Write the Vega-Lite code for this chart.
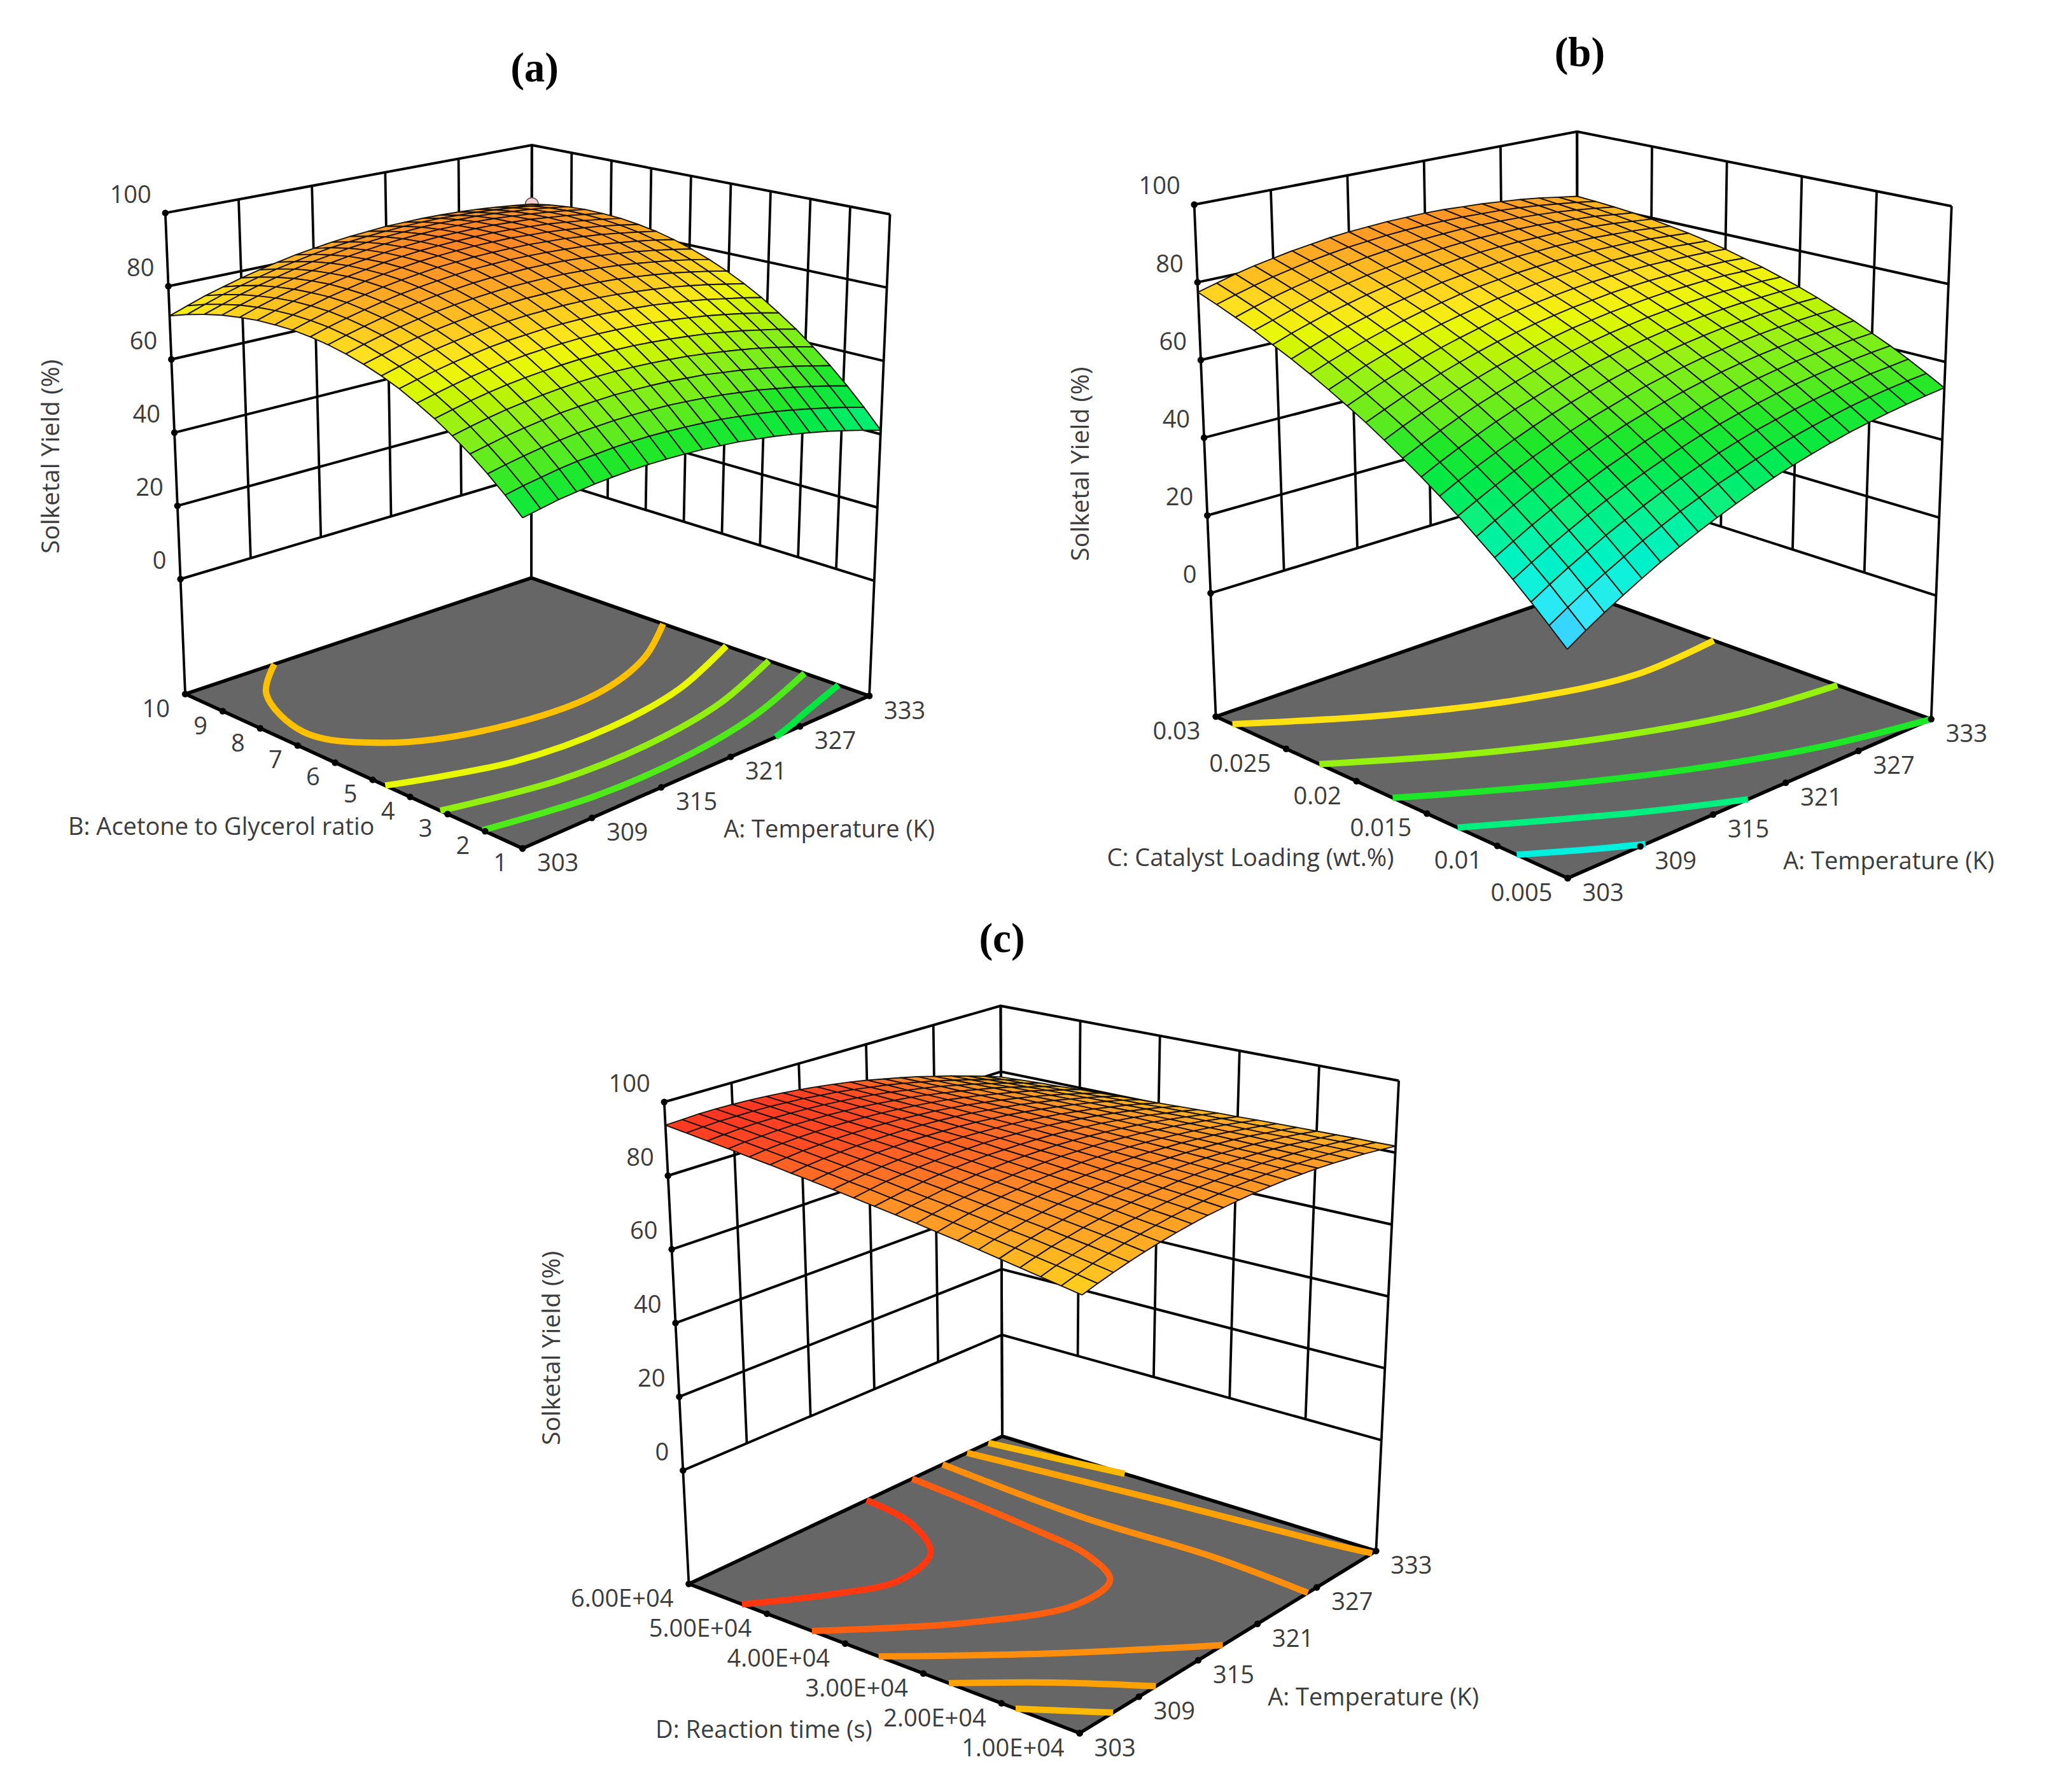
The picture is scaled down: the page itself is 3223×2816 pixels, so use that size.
{"$schema":"https://vega.github.io/schema/vega-lite/v6.json","width":3223,"height":2816,"padding":0,"autosize":{"type":"fit","contains":"padding"},"background":"white","config":{"view":{"stroke":null}},
"datasets":{
"ticks":[{"p":0,"axis":"A","t":0,"label":"303"},{"p":0,"axis":"A","t":0.2,"label":"309"},{"p":0,"axis":"A","t":0.4,"label":"315"},{"p":0,"axis":"A","t":0.6,"label":"321"},{"p":0,"axis":"A","t":0.8,"label":"327"},{"p":0,"axis":"A","t":1,"label":"333"},
{"p":1,"axis":"A","t":0,"label":"303"},{"p":1,"axis":"A","t":0.2,"label":"309"},{"p":1,"axis":"A","t":0.4,"label":"315"},{"p":1,"axis":"A","t":0.6,"label":"321"},{"p":1,"axis":"A","t":0.8,"label":"327"},{"p":1,"axis":"A","t":1,"label":"333"},
{"p":2,"axis":"A","t":0,"label":"303"},{"p":2,"axis":"A","t":0.2,"label":"309"},{"p":2,"axis":"A","t":0.4,"label":"315"},{"p":2,"axis":"A","t":0.6,"label":"321"},{"p":2,"axis":"A","t":0.8,"label":"327"},{"p":2,"axis":"A","t":1,"label":"333"},
{"p":0,"axis":"F","t":0,"label":"1"},{"p":0,"axis":"F","t":0.1111,"label":"2"},{"p":0,"axis":"F","t":0.2222,"label":"3"},{"p":0,"axis":"F","t":0.3333,"label":"4"},{"p":0,"axis":"F","t":0.4444,"label":"5"},{"p":0,"axis":"F","t":0.5556,"label":"6"},{"p":0,"axis":"F","t":0.6667,"label":"7"},{"p":0,"axis":"F","t":0.7778,"label":"8"},{"p":0,"axis":"F","t":0.8889,"label":"9"},{"p":0,"axis":"F","t":1,"label":"10"},
{"p":1,"axis":"F","t":0,"label":"0.005"},{"p":1,"axis":"F","t":0.2,"label":"0.01"},{"p":1,"axis":"F","t":0.4,"label":"0.015"},{"p":1,"axis":"F","t":0.6,"label":"0.02"},{"p":1,"axis":"F","t":0.8,"label":"0.025"},{"p":1,"axis":"F","t":1,"label":"0.03"},
{"p":2,"axis":"F","t":0,"label":"1.00E+04"},{"p":2,"axis":"F","t":0.2,"label":"2.00E+04"},{"p":2,"axis":"F","t":0.4,"label":"3.00E+04"},{"p":2,"axis":"F","t":0.6,"label":"4.00E+04"},{"p":2,"axis":"F","t":0.8,"label":"5.00E+04"},{"p":2,"axis":"F","t":1,"label":"6.00E+04"},
{"p":0,"axis":"Y","t":0,"label":"0"},{"p":0,"axis":"Y","t":20,"label":"20"},{"p":0,"axis":"Y","t":40,"label":"40"},{"p":0,"axis":"Y","t":60,"label":"60"},{"p":0,"axis":"Y","t":80,"label":"80"},{"p":0,"axis":"Y","t":100,"label":"100"},
{"p":1,"axis":"Y","t":0,"label":"0"},{"p":1,"axis":"Y","t":20,"label":"20"},{"p":1,"axis":"Y","t":40,"label":"40"},{"p":1,"axis":"Y","t":60,"label":"60"},{"p":1,"axis":"Y","t":80,"label":"80"},{"p":1,"axis":"Y","t":100,"label":"100"},
{"p":2,"axis":"Y","t":0,"label":"0"},{"p":2,"axis":"Y","t":20,"label":"20"},{"p":2,"axis":"Y","t":40,"label":"40"},{"p":2,"axis":"Y","t":60,"label":"60"},{"p":2,"axis":"Y","t":80,"label":"80"},{"p":2,"axis":"Y","t":100,"label":"100"}],
"floors":[{"p":0,"u":0,"v":0},{"p":0,"u":1,"v":0},{"p":0,"u":1,"v":1},{"p":0,"u":0,"v":1},{"p":0,"u":0,"v":0},{"p":1,"u":0,"v":0},{"p":1,"u":1,"v":0},{"p":1,"u":1,"v":1},{"p":1,"u":0,"v":1},{"p":1,"u":0,"v":0},{"p":2,"u":0,"v":0},{"p":2,"u":1,"v":0},{"p":2,"u":1,"v":1},{"p":2,"u":0,"v":1},{"p":2,"u":0,"v":0}],
"contours":[{"p":0,"c":"a1","L":80,"u":0.234,"v":1},{"p":0,"c":"a1","L":80,"u":0.12,"v":0.884},{"p":0,"c":"a1","L":80,"u":0.05,"v":0.678},{"p":0,"c":"a1","L":80,"u":0.131,"v":0.523},{"p":0,"c":"a1","L":80,"u":0.34,"v":0.422},{"p":0,"c":"a1","L":80,"u":0.608,"v":0.404},{"p":0,"c":"a1","L":80,"u":0.824,"v":0.472},{"p":0,"c":"a1","L":80,"u":1,"v":0.58},
{"p":0,"c":"a2","L":72.6,"u":0,"v":0.373},{"p":0,"c":"a2","L":72.6,"u":0.25,"v":0.28},{"p":0,"c":"a2","L":72.6,"u":0.5,"v":0.264},{"p":0,"c":"a2","L":72.6,"u":0.75,"v":0.302},{"p":0,"c":"a2","L":72.6,"u":1,"v":0.393},
{"p":0,"c":"a3","L":65.1,"u":0,"v":0.2185},{"p":0,"c":"a3","L":65.1,"u":0.25,"v":0.159},{"p":0,"c":"a3","L":65.1,"u":0.5,"v":0.154},{"p":0,"c":"a3","L":65.1,"u":0.75,"v":0.191},{"p":0,"c":"a3","L":65.1,"u":1,"v":0.272},
{"p":0,"c":"a4","L":57.7,"u":0,"v":0.104},{"p":0,"c":"a4","L":57.7,"u":0.25,"v":0.061},{"p":0,"c":"a4","L":57.7,"u":0.5,"v":0.062},{"p":0,"c":"a4","L":57.7,"u":0.75,"v":0.099},{"p":0,"c":"a4","L":57.7,"u":1,"v":0.173},
{"p":0,"c":"a5","L":50.2,"u":0.7,"v":0},{"p":0,"c":"a5","L":50.2,"u":0.75,"v":0.012},{"p":0,"c":"a5","L":50.2,"u":0.85,"v":0.041},{"p":0,"c":"a5","L":50.2,"u":1,"v":0.0815},
{"p":1,"c":"b1","L":76.5,"u":0,"v":0.947},{"p":1,"c":"b1","L":76.5,"u":0.25,"v":0.766},{"p":1,"c":"b1","L":76.5,"u":0.5,"v":0.637},{"p":1,"c":"b1","L":76.5,"u":0.75,"v":0.57},{"p":1,"c":"b1","L":76.5,"u":1,"v":0.588},
{"p":1,"c":"b2","L":65.4,"u":0,"v":0.679},{"p":1,"c":"b2","L":65.4,"u":0.25,"v":0.505},{"p":1,"c":"b2","L":65.4,"u":0.5,"v":0.374},{"p":1,"c":"b2","L":65.4,"u":0.75,"v":0.283},{"p":1,"c":"b2","L":65.4,"u":1,"v":0.244},
{"p":1,"c":"b3","L":54.2,"u":0,"v":0.466},{"p":1,"c":"b3","L":54.2,"u":0.25,"v":0.298},{"p":1,"c":"b3","L":54.2,"u":0.5,"v":0.162},{"p":1,"c":"b3","L":54.2,"u":0.75,"v":0.062},{"p":1,"c":"b3","L":54.2,"u":1,"v":0},
{"p":1,"c":"b4","L":43,"u":0,"v":0.2865},{"p":1,"c":"b4","L":43,"u":0.25,"v":0.121},{"p":1,"c":"b4","L":43,"u":0.35,"v":0.062},{"p":1,"c":"b4","L":43,"u":0.465,"v":0},
{"p":1,"c":"b5","L":32,"u":0,"v":0.13},{"p":1,"c":"b5","L":32,"u":0.1,"v":0.06},{"p":1,"c":"b5","L":32,"u":0.194,"v":0},
{"p":2,"c":"c1","L":92,"u":0.537,"v":1},{"p":2,"c":"c1","L":92,"u":0.503,"v":0.839},{"p":2,"c":"c1","L":92,"u":0.416,"v":0.713},{"p":2,"c":"c1","L":92,"u":0.28,"v":0.678},{"p":2,"c":"c1","L":92,"u":0.137,"v":0.747},{"p":2,"c":"c1","L":92,"u":0,"v":0.85},
{"p":2,"c":"c2","L":89.4,"u":0.687,"v":1},{"p":2,"c":"c2","L":89.4,"u":0.646,"v":0.64},{"p":2,"c":"c2","L":89.4,"u":0.61,"v":0.45},{"p":2,"c":"c2","L":89.4,"u":0.545,"v":0.345},{"p":2,"c":"c2","L":89.4,"u":0.414,"v":0.329},{"p":2,"c":"c2","L":89.4,"u":0.216,"v":0.447},{"p":2,"c":"c2","L":89.4,"u":0,"v":0.66},
{"p":2,"c":"c3","L":86.5,"u":0.79,"v":1},{"p":2,"c":"c3","L":86.5,"u":0.756,"v":0.562},{"p":2,"c":"c3","L":86.5,"u":0.766,"v":0.254},{"p":2,"c":"c3","L":86.5,"u":0.745,"v":0},
{"p":2,"c":"c3b","L":86.5,"u":0,"v":0.486},{"p":2,"c":"c3b","L":86.5,"u":0.209,"v":0.243},{"p":2,"c":"c3b","L":86.5,"u":0.449,"v":0},
{"p":2,"c":"c4","L":83.7,"u":0.875,"v":1},{"p":2,"c":"c4","L":83.7,"u":0.933,"v":0.483},{"p":2,"c":"c4","L":83.7,"u":0.97,"v":0.1},{"p":2,"c":"c4","L":83.7,"u":0.985,"v":0},
{"p":2,"c":"c4b","L":83.7,"u":0,"v":0.31},{"p":2,"c":"c4b","L":83.7,"u":0.123,"v":0.16},{"p":2,"c":"c4b","L":83.7,"u":0.232,"v":0},
{"p":2,"c":"c5","L":80.8,"u":0.95,"v":1},{"p":2,"c":"c5","L":80.8,"u":0.975,"v":0.82},{"p":2,"c":"c5","L":80.8,"u":1,"v":0.65},
{"p":2,"c":"c5b","L":80.8,"u":0,"v":0.149},{"p":2,"c":"c5b","L":80.8,"u":0.05,"v":0.074},{"p":2,"c":"c5b","L":80.8,"u":0.1,"v":0}],
"axisTitles":[{"p":0,"label":"A: Temperature (K)","u":0.447,"v":-0.341},{"p":0,"label":"B: Acetone to Glycerol ratio","u":-0.332,"v":0.445},{"p":1,"label":"A: Temperature (K)","u":0.4478,"v":-0.3523},{"p":1,"label":"C: Catalyst Loading (wt.%)","u":-0.3483,"v":0.4468},{"p":2,"label":"A: Temperature (K)","u":0.4442,"v":-0.342},{"p":2,"label":"D: Reaction time (s)","u":-0.3511,"v":0.4507}],
"yieldTitles":[{"p":0,"label":"Solketal Yield (%)"},{"p":1,"label":"Solketal Yield (%)"},{"p":2,"label":"Solketal Yield (%)"}],
"panelTitles":[{"p":0,"label":"(a)","z":124},{"p":1,"label":"(b)","z":120.4},{"p":2,"label":"(c)","z":119}],
"designPoints":[{"p":0,"u":1,"v":1,"z":84}],
"surface":[{"z":82.7},{"z":83.4},{"z":84},{"z":84.5},{"z":84.8},{"z":85},{"z":85.1},{"z":85},{"z":84.9},{"z":84.5},{"z":84.1},{"z":83.5},{"z":82.8},{"z":82},{"z":81},{"z":79.9},{"z":78.7},{"z":77.3},{"z":75.9},{"z":74.2},{"z":72.5},
{"z":83.6},{"z":84.4},{"z":85},{"z":85.5},{"z":85.9},{"z":86.1},{"z":86.3},{"z":86.3},{"z":86.1},{"z":85.8},{"z":85.4},{"z":84.9},{"z":84.3},{"z":83.5},{"z":82.5},{"z":81.5},{"z":80.3},{"z":79},{"z":77.6},{"z":76},{"z":74.3},
{"z":84.2},{"z":85},{"z":85.7},{"z":86.2},{"z":86.7},{"z":87},{"z":87.1},{"z":87.2},{"z":87.1},{"z":86.8},{"z":86.5},{"z":86},{"z":85.4},{"z":84.6},{"z":83.8},{"z":82.8},{"z":81.6},{"z":80.4},{"z":79},{"z":77.4},{"z":75.8},
{"z":84.5},{"z":85.3},{"z":86},{"z":86.6},{"z":87.1},{"z":87.5},{"z":87.7},{"z":87.7},{"z":87.7},{"z":87.5},{"z":87.2},{"z":86.8},{"z":86.2},{"z":85.5},{"z":84.7},{"z":83.7},{"z":82.6},{"z":81.4},{"z":80},{"z":78.6},{"z":77},
{"z":84.4},{"z":85.3},{"z":86.1},{"z":86.7},{"z":87.3},{"z":87.6},{"z":87.9},{"z":88},{"z":88},{"z":87.9},{"z":87.6},{"z":87.2},{"z":86.7},{"z":86},{"z":85.3},{"z":84.3},{"z":83.3},{"z":82.1},{"z":80.8},{"z":79.4},{"z":77.8},
{"z":84.1},{"z":85},{"z":85.8},{"z":86.5},{"z":87.1},{"z":87.5},{"z":87.8},{"z":88},{"z":88},{"z":87.9},{"z":87.7},{"z":87.4},{"z":86.9},{"z":86.3},{"z":85.5},{"z":84.7},{"z":83.7},{"z":82.5},{"z":81.3},{"z":79.9},{"z":78.4},
{"z":83.4},{"z":84.4},{"z":85.3},{"z":86},{"z":86.6},{"z":87.1},{"z":87.4},{"z":87.7},{"z":87.7},{"z":87.7},{"z":87.5},{"z":87.2},{"z":86.8},{"z":86.2},{"z":85.5},{"z":84.7},{"z":83.7},{"z":82.7},{"z":81.4},{"z":80.1},{"z":78.6},
{"z":82.5},{"z":83.5},{"z":84.4},{"z":85.2},{"z":85.8},{"z":86.4},{"z":86.7},{"z":87},{"z":87.1},{"z":87.1},{"z":87},{"z":86.7},{"z":86.4},{"z":85.8},{"z":85.2},{"z":84.4},{"z":83.5},{"z":82.5},{"z":81.3},{"z":80},{"z":78.6},
{"z":81.2},{"z":82.3},{"z":83.2},{"z":84},{"z":84.7},{"z":85.3},{"z":85.7},{"z":86},{"z":86.2},{"z":86.3},{"z":86.2},{"z":86},{"z":85.6},{"z":85.1},{"z":84.5},{"z":83.8},{"z":82.9},{"z":81.9},{"z":80.8},{"z":79.6},{"z":78.2},
{"z":79.6},{"z":80.7},{"z":81.7},{"z":82.6},{"z":83.3},{"z":83.9},{"z":84.4},{"z":84.8},{"z":85},{"z":85.1},{"z":85},{"z":84.9},{"z":84.6},{"z":84.1},{"z":83.6},{"z":82.9},{"z":82.1},{"z":81.1},{"z":80},{"z":78.8},{"z":77.5},
{"z":77.7},{"z":78.9},{"z":79.9},{"z":80.8},{"z":81.6},{"z":82.3},{"z":82.8},{"z":83.2},{"z":83.5},{"z":83.6},{"z":83.6},{"z":83.5},{"z":83.2},{"z":82.8},{"z":82.3},{"z":81.7},{"z":80.9},{"z":80},{"z":79},{"z":77.8},{"z":76.5},
{"z":75.5},{"z":76.7},{"z":77.8},{"z":78.8},{"z":79.6},{"z":80.3},{"z":80.9},{"z":81.3},{"z":81.6},{"z":81.8},{"z":81.8},{"z":81.8},{"z":81.6},{"z":81.2},{"z":80.7},{"z":80.1},{"z":79.4},{"z":78.6},{"z":77.6},{"z":76.4},{"z":75.2},
{"z":73},{"z":74.2},{"z":75.4},{"z":76.4},{"z":77.3},{"z":78},{"z":78.6},{"z":79.1},{"z":79.5},{"z":79.7},{"z":79.8},{"z":79.7},{"z":79.6},{"z":79.3},{"z":78.9},{"z":78.3},{"z":77.6},{"z":76.8},{"z":75.9},{"z":74.8},{"z":73.6},
{"z":70.2},{"z":71.5},{"z":72.6},{"z":73.7},{"z":74.6},{"z":75.4},{"z":76.1},{"z":76.6},{"z":77},{"z":77.3},{"z":77.4},{"z":77.4},{"z":77.3},{"z":77},{"z":76.7},{"z":76.2},{"z":75.5},{"z":74.7},{"z":73.8},{"z":72.8},{"z":71.7},
{"z":67},{"z":68.4},{"z":69.6},{"z":70.7},{"z":71.7},{"z":72.5},{"z":73.2},{"z":73.8},{"z":74.2},{"z":74.5},{"z":74.7},{"z":74.8},{"z":74.7},{"z":74.5},{"z":74.2},{"z":73.7},{"z":73.1},{"z":72.4},{"z":71.5},{"z":70.5},{"z":69.4},
{"z":63.6},{"z":65},{"z":66.2},{"z":67.4},{"z":68.4},{"z":69.3},{"z":70},{"z":70.6},{"z":71.1},{"z":71.5},{"z":71.7},{"z":71.8},{"z":71.8},{"z":71.6},{"z":71.3},{"z":70.9},{"z":70.4},{"z":69.7},{"z":68.9},{"z":67.9},{"z":66.9},
{"z":59.8},{"z":61.3},{"z":62.6},{"z":63.8},{"z":64.8},{"z":65.7},{"z":66.5},{"z":67.2},{"z":67.7},{"z":68.1},{"z":68.4},{"z":68.6},{"z":68.6},{"z":68.5},{"z":68.2},{"z":67.8},{"z":67.3},{"z":66.7},{"z":65.9},{"z":65},{"z":64},
{"z":55.8},{"z":57.2},{"z":58.6},{"z":59.8},{"z":60.9},{"z":61.9},{"z":62.7},{"z":63.5},{"z":64},{"z":64.5},{"z":64.8},{"z":65},{"z":65.1},{"z":65},{"z":64.8},{"z":64.5},{"z":64},{"z":63.4},{"z":62.7},{"z":61.8},{"z":60.9},
{"z":51.4},{"z":52.9},{"z":54.3},{"z":55.6},{"z":56.7},{"z":57.8},{"z":58.6},{"z":59.4},{"z":60},{"z":60.5},{"z":60.9},{"z":61.1},{"z":61.2},{"z":61.2},{"z":61},{"z":60.8},{"z":60.3},{"z":59.8},{"z":59.1},{"z":58.3},{"z":57.4},
{"z":46.7},{"z":48.3},{"z":49.7},{"z":51},{"z":52.2},{"z":53.3},{"z":54.2},{"z":55},{"z":55.7},{"z":56.2},{"z":56.6},{"z":56.9},{"z":57.1},{"z":57.1},{"z":57},{"z":56.7},{"z":56.4},{"z":55.9},{"z":55.2},{"z":54.5},{"z":53.6},
{"z":41.7},{"z":43.3},{"z":44.8},{"z":46.2},{"z":47.4},{"z":48.5},{"z":49.5},{"z":50.3},{"z":51.1},{"z":51.6},{"z":52.1},{"z":52.4},{"z":52.6},{"z":52.7},{"z":52.6},{"z":52.4},{"z":52.1},{"z":51.6},{"z":51.1},{"z":50.3},{"z":49.5},
{"z":82.3},{"z":83.2},{"z":84.1},{"z":84.8},{"z":85.3},{"z":85.8},{"z":86.1},{"z":86.4},{"z":86.5},{"z":86.4},{"z":86.3},{"z":86},{"z":85.7},{"z":85.2},{"z":84.5},{"z":83.8},{"z":82.9},{"z":82},{"z":80.9},{"z":79.6},{"z":78.3},
{"z":82},{"z":82.9},{"z":83.6},{"z":84.3},{"z":84.8},{"z":85.2},{"z":85.4},{"z":85.6},{"z":85.6},{"z":85.5},{"z":85.3},{"z":85},{"z":84.5},{"z":84},{"z":83.3},{"z":82.5},{"z":81.5},{"z":80.5},{"z":79.3},{"z":78},{"z":76.6},
{"z":81.6},{"z":82.4},{"z":83.1},{"z":83.7},{"z":84.1},{"z":84.4},{"z":84.6},{"z":84.7},{"z":84.7},{"z":84.5},{"z":84.2},{"z":83.8},{"z":83.3},{"z":82.7},{"z":81.9},{"z":81},{"z":80},{"z":78.9},{"z":77.7},{"z":76.3},{"z":74.8},
{"z":81.1},{"z":81.8},{"z":82.5},{"z":82.9},{"z":83.3},{"z":83.6},{"z":83.7},{"z":83.7},{"z":83.6},{"z":83.4},{"z":83},{"z":82.5},{"z":81.9},{"z":81.2},{"z":80.4},{"z":79.4},{"z":78.4},{"z":77.2},{"z":75.9},{"z":74.4},{"z":72.9},
{"z":80.5},{"z":81.1},{"z":81.7},{"z":82.1},{"z":82.4},{"z":82.6},{"z":82.6},{"z":82.6},{"z":82.4},{"z":82.1},{"z":81.7},{"z":81.1},{"z":80.5},{"z":79.7},{"z":78.8},{"z":77.8},{"z":76.6},{"z":75.4},{"z":74},{"z":72.5},{"z":70.8},
{"z":79.7},{"z":80.3},{"z":80.8},{"z":81.1},{"z":81.4},{"z":81.5},{"z":81.5},{"z":81.3},{"z":81.1},{"z":80.7},{"z":80.2},{"z":79.6},{"z":78.9},{"z":78},{"z":77},{"z":76},{"z":74.7},{"z":73.4},{"z":72},{"z":70.4},{"z":68.7},
{"z":78.9},{"z":79.4},{"z":79.8},{"z":80.1},{"z":80.2},{"z":80.3},{"z":80.2},{"z":80},{"z":79.6},{"z":79.2},{"z":78.6},{"z":78},{"z":77.2},{"z":76.2},{"z":75.2},{"z":74},{"z":72.7},{"z":71.3},{"z":69.8},{"z":68.2},{"z":66.4},
{"z":77.9},{"z":78.3},{"z":78.7},{"z":78.9},{"z":78.9},{"z":78.9},{"z":78.8},{"z":78.5},{"z":78.1},{"z":77.6},{"z":76.9},{"z":76.2},{"z":75.3},{"z":74.3},{"z":73.2},{"z":72},{"z":70.6},{"z":69.2},{"z":67.6},{"z":65.8},{"z":64},
{"z":76.8},{"z":77.2},{"z":77.4},{"z":77.5},{"z":77.6},{"z":77.5},{"z":77.2},{"z":76.9},{"z":76.4},{"z":75.8},{"z":75.1},{"z":74.3},{"z":73.4},{"z":72.3},{"z":71.1},{"z":69.8},{"z":68.4},{"z":66.8},{"z":65.2},{"z":63.4},{"z":61.5},
{"z":75.5},{"z":75.9},{"z":76},{"z":76.1},{"z":76},{"z":75.9},{"z":75.6},{"z":75.2},{"z":74.6},{"z":74},{"z":73.2},{"z":72.3},{"z":71.3},{"z":70.2},{"z":68.9},{"z":67.5},{"z":66},{"z":64.4},{"z":62.7},{"z":60.8},{"z":58.9},
{"z":74.2},{"z":74.4},{"z":74.6},{"z":74.6},{"z":74.4},{"z":74.2},{"z":73.8},{"z":73.3},{"z":72.7},{"z":72},{"z":71.2},{"z":70.2},{"z":69.1},{"z":67.9},{"z":66.6},{"z":65.1},{"z":63.6},{"z":61.9},{"z":60.1},{"z":58.2},{"z":56.1},
{"z":72.7},{"z":72.9},{"z":72.9},{"z":72.9},{"z":72.7},{"z":72.4},{"z":71.9},{"z":71.4},{"z":70.7},{"z":69.9},{"z":69},{"z":68},{"z":66.8},{"z":65.5},{"z":64.1},{"z":62.6},{"z":61},{"z":59.2},{"z":57.3},{"z":55.3},{"z":53.2},
{"z":71.2},{"z":71.3},{"z":71.2},{"z":71.1},{"z":70.8},{"z":70.4},{"z":69.9},{"z":69.3},{"z":68.5},{"z":67.7},{"z":66.7},{"z":65.6},{"z":64.4},{"z":63},{"z":61.5},{"z":60},{"z":58.3},{"z":56.4},{"z":54.5},{"z":52.4},{"z":50.2},
{"z":69.5},{"z":69.5},{"z":69.4},{"z":69.2},{"z":68.8},{"z":68.4},{"z":67.8},{"z":67.1},{"z":66.3},{"z":65.3},{"z":64.3},{"z":63.1},{"z":61.8},{"z":60.4},{"z":58.9},{"z":57.2},{"z":55.4},{"z":53.5},{"z":51.5},{"z":49.4},{"z":47.1},
{"z":67.6},{"z":67.6},{"z":67.4},{"z":67.1},{"z":66.7},{"z":66.2},{"z":65.5},{"z":64.8},{"z":63.9},{"z":62.9},{"z":61.8},{"z":60.5},{"z":59.1},{"z":57.7},{"z":56.1},{"z":54.3},{"z":52.5},{"z":50.5},{"z":48.4},{"z":46.2},{"z":43.9},
{"z":65.7},{"z":65.6},{"z":65.3},{"z":65},{"z":64.5},{"z":63.9},{"z":63.2},{"z":62.4},{"z":61.4},{"z":60.3},{"z":59.1},{"z":57.8},{"z":56.4},{"z":54.8},{"z":53.1},{"z":51.3},{"z":49.4},{"z":47.4},{"z":45.2},{"z":42.9},{"z":40.5},
{"z":63.6},{"z":63.4},{"z":63.1},{"z":62.7},{"z":62.2},{"z":61.5},{"z":60.7},{"z":59.8},{"z":58.8},{"z":57.6},{"z":56.3},{"z":55},{"z":53.5},{"z":51.8},{"z":50.1},{"z":48.2},{"z":46.2},{"z":44.1},{"z":41.9},{"z":39.5},{"z":37.1},
{"z":61.5},{"z":61.2},{"z":60.8},{"z":60.3},{"z":59.7},{"z":59},{"z":58.1},{"z":57.1},{"z":56},{"z":54.8},{"z":53.5},{"z":52},{"z":50.4},{"z":48.7},{"z":46.9},{"z":45},{"z":42.9},{"z":40.7},{"z":38.4},{"z":36},{"z":33.5},
{"z":59.2},{"z":58.8},{"z":58.4},{"z":57.8},{"z":57.1},{"z":56.3},{"z":55.4},{"z":54.3},{"z":53.2},{"z":51.9},{"z":50.5},{"z":48.9},{"z":47.3},{"z":45.5},{"z":43.6},{"z":41.6},{"z":39.5},{"z":37.2},{"z":34.9},{"z":32.4},{"z":29.8},
{"z":56.7},{"z":56.3},{"z":55.8},{"z":55.2},{"z":54.4},{"z":53.5},{"z":52.5},{"z":51.4},{"z":50.2},{"z":48.8},{"z":47.3},{"z":45.8},{"z":44},{"z":42.2},{"z":40.2},{"z":38.2},{"z":35.9},{"z":33.6},{"z":31.2},{"z":28.6},{"z":25.9},
{"z":54.2},{"z":53.7},{"z":53.1},{"z":52.4},{"z":51.6},{"z":50.7},{"z":49.6},{"z":48.4},{"z":47.1},{"z":45.7},{"z":44.1},{"z":42.4},{"z":40.6},{"z":38.7},{"z":36.7},{"z":34.6},{"z":32.3},{"z":29.9},{"z":27.4},{"z":24.8},{"z":22},
{"z":79},{"z":80.8},{"z":82.4},{"z":84},{"z":85.4},{"z":86.8},{"z":88},{"z":89.1},{"z":90.2},{"z":91.1},{"z":91.9},{"z":92.6},{"z":93.2},{"z":93.7},{"z":94.1},{"z":94.4},{"z":94.6},{"z":94.7},{"z":94.7},{"z":94.5},{"z":94.3},
{"z":79.3},{"z":81},{"z":82.6},{"z":84.1},{"z":85.5},{"z":86.8},{"z":88},{"z":89.1},{"z":90.1},{"z":90.9},{"z":91.7},{"z":92.4},{"z":92.9},{"z":93.4},{"z":93.7},{"z":94},{"z":94.1},{"z":94.1},{"z":94.1},{"z":93.9},{"z":93.6},
{"z":79.6},{"z":81.2},{"z":82.8},{"z":84.2},{"z":85.6},{"z":86.8},{"z":88},{"z":89},{"z":89.9},{"z":90.8},{"z":91.5},{"z":92.1},{"z":92.6},{"z":93},{"z":93.3},{"z":93.5},{"z":93.6},{"z":93.6},{"z":93.5},{"z":93.2},{"z":92.9},
{"z":79.8},{"z":81.4},{"z":82.9},{"z":84.4},{"z":85.7},{"z":86.8},{"z":87.9},{"z":88.9},{"z":89.8},{"z":90.6},{"z":91.2},{"z":91.8},{"z":92.3},{"z":92.6},{"z":92.9},{"z":93},{"z":93.1},{"z":93},{"z":92.8},{"z":92.6},{"z":92.2},
{"z":80.1},{"z":81.6},{"z":83.1},{"z":84.5},{"z":85.7},{"z":86.8},{"z":87.9},{"z":88.8},{"z":89.7},{"z":90.4},{"z":91},{"z":91.5},{"z":91.9},{"z":92.2},{"z":92.4},{"z":92.5},{"z":92.5},{"z":92.4},{"z":92.2},{"z":91.9},{"z":91.4},
{"z":80.3},{"z":81.8},{"z":83.2},{"z":84.5},{"z":85.7},{"z":86.8},{"z":87.8},{"z":88.7},{"z":89.5},{"z":90.2},{"z":90.8},{"z":91.2},{"z":91.6},{"z":91.8},{"z":92},{"z":92},{"z":92},{"z":91.8},{"z":91.6},{"z":91.2},{"z":90.7},
{"z":80.5},{"z":82},{"z":83.4},{"z":84.6},{"z":85.8},{"z":86.8},{"z":87.8},{"z":88.6},{"z":89.3},{"z":90},{"z":90.5},{"z":90.9},{"z":91.2},{"z":91.4},{"z":91.5},{"z":91.5},{"z":91.4},{"z":91.2},{"z":90.9},{"z":90.5},{"z":89.9},
{"z":80.7},{"z":82.2},{"z":83.5},{"z":84.7},{"z":85.8},{"z":86.8},{"z":87.7},{"z":88.5},{"z":89.2},{"z":89.7},{"z":90.2},{"z":90.6},{"z":90.8},{"z":91},{"z":91.1},{"z":91},{"z":90.9},{"z":90.6},{"z":90.2},{"z":89.8},{"z":89.2},
{"z":80.9},{"z":82.3},{"z":83.6},{"z":84.7},{"z":85.8},{"z":86.7},{"z":87.6},{"z":88.3},{"z":89},{"z":89.5},{"z":89.9},{"z":90.2},{"z":90.5},{"z":90.6},{"z":90.6},{"z":90.5},{"z":90.3},{"z":90},{"z":89.5},{"z":89},{"z":88.4},
{"z":81.1},{"z":82.5},{"z":83.7},{"z":84.8},{"z":85.8},{"z":86.7},{"z":87.5},{"z":88.2},{"z":88.8},{"z":89.3},{"z":89.6},{"z":89.9},{"z":90.1},{"z":90.1},{"z":90.1},{"z":89.9},{"z":89.7},{"z":89.3},{"z":88.9},{"z":88.3},{"z":87.6},
{"z":81.3},{"z":82.6},{"z":83.7},{"z":84.8},{"z":85.8},{"z":86.6},{"z":87.4},{"z":88},{"z":88.5},{"z":89},{"z":89.3},{"z":89.5},{"z":89.6},{"z":89.7},{"z":89.6},{"z":89.4},{"z":89.1},{"z":88.7},{"z":88.1},{"z":87.5},{"z":86.8},
{"z":81.5},{"z":82.7},{"z":83.8},{"z":84.8},{"z":85.7},{"z":86.5},{"z":87.2},{"z":87.8},{"z":88.3},{"z":88.7},{"z":89},{"z":89.1},{"z":89.2},{"z":89.2},{"z":89},{"z":88.8},{"z":88.4},{"z":88},{"z":87.4},{"z":86.8},{"z":86},
{"z":81.6},{"z":82.8},{"z":83.9},{"z":84.8},{"z":85.7},{"z":86.4},{"z":87.1},{"z":87.6},{"z":88.1},{"z":88.4},{"z":88.6},{"z":88.8},{"z":88.8},{"z":88.7},{"z":88.5},{"z":88.2},{"z":87.8},{"z":87.3},{"z":86.7},{"z":86},{"z":85.2},
{"z":81.8},{"z":82.9},{"z":83.9},{"z":84.8},{"z":85.6},{"z":86.3},{"z":86.9},{"z":87.4},{"z":87.8},{"z":88.1},{"z":88.3},{"z":88.4},{"z":88.3},{"z":88.2},{"z":88},{"z":87.6},{"z":87.2},{"z":86.6},{"z":86},{"z":85.2},{"z":84.3},
{"z":81.9},{"z":83},{"z":83.9},{"z":84.8},{"z":85.6},{"z":86.2},{"z":86.8},{"z":87.2},{"z":87.6},{"z":87.8},{"z":87.9},{"z":87.9},{"z":87.9},{"z":87.7},{"z":87.4},{"z":87},{"z":86.5},{"z":85.9},{"z":85.2},{"z":84.4},{"z":83.5},
{"z":82},{"z":83},{"z":83.9},{"z":84.8},{"z":85.5},{"z":86.1},{"z":86.6},{"z":87},{"z":87.3},{"z":87.5},{"z":87.6},{"z":87.5},{"z":87.4},{"z":87.2},{"z":86.8},{"z":86.4},{"z":85.8},{"z":85.2},{"z":84.4},{"z":83.6},{"z":82.6},
{"z":82.1},{"z":83.1},{"z":84},{"z":84.7},{"z":85.4},{"z":85.9},{"z":86.4},{"z":86.8},{"z":87},{"z":87.1},{"z":87.2},{"z":87.1},{"z":86.9},{"z":86.6},{"z":86.2},{"z":85.8},{"z":85.2},{"z":84.5},{"z":83.7},{"z":82.8},{"z":81.7},
{"z":82.2},{"z":83.1},{"z":83.9},{"z":84.7},{"z":85.3},{"z":85.8},{"z":86.2},{"z":86.5},{"z":86.7},{"z":86.8},{"z":86.8},{"z":86.6},{"z":86.4},{"z":86.1},{"z":85.7},{"z":85.1},{"z":84.5},{"z":83.7},{"z":82.9},{"z":81.9},{"z":80.8},
{"z":82.3},{"z":83.2},{"z":83.9},{"z":84.6},{"z":85.2},{"z":85.6},{"z":86},{"z":86.2},{"z":86.4},{"z":86.4},{"z":86.4},{"z":86.2},{"z":85.9},{"z":85.5},{"z":85},{"z":84.5},{"z":83.8},{"z":83},{"z":82.1},{"z":81.1},{"z":79.9},
{"z":82.3},{"z":83.2},{"z":83.9},{"z":84.5},{"z":85},{"z":85.4},{"z":85.8},{"z":86},{"z":86.1},{"z":86.1},{"z":85.9},{"z":85.7},{"z":85.4},{"z":85},{"z":84.4},{"z":83.8},{"z":83.1},{"z":82.2},{"z":81.3},{"z":80.2},{"z":79},
{"z":82.4},{"z":83.2},{"z":83.9},{"z":84.4},{"z":84.9},{"z":85.3},{"z":85.5},{"z":85.7},{"z":85.7},{"z":85.7},{"z":85.5},{"z":85.2},{"z":84.9},{"z":84.4},{"z":83.8},{"z":83.1},{"z":82.3},{"z":81.4},{"z":80.4},{"z":79.3},{"z":78.1}]
},
"encoding":{"x":{"field":"X","type":"quantitative","scale":{"domain":[0,1568],"nice":false},"axis":null},"y":{"field":"Y","type":"quantitative","scale":{"domain":[1370,0],"nice":false},"axis":null}},
"layer":[
{"data":{"name":"ticks"},"transform":[{"filter":"datum.axis!='Y'"},{"calculate":"[0,1]","as":"s"},{"flatten":["s"]},{"calculate":"datum.axis=='A'?datum.t:1","as":"U"},{"calculate":"datum.axis=='A'?1:datum.t","as":"V"},{"calculate":"[31.4,31.75,30.8][datum.p]","as":"zf"},{"calculate":"datum.s==1?1:((datum.t==0||datum.t==1)?0:datum.zf/(datum.zf+100))","as":"W"},{"calculate":"datum.p+datum.axis+datum.t","as":"id"},
{"calculate":"[[399.5,648.6,664.6,532,406.2,441.8,141.6,530.6,399.6,235,680.4,163.8,406.6,111,126.4,162.8],[1198.5,671.4,1476.4,549.8,1206,452,929.5,547.8,1197.7,235.5,1492,157.6,1205.7,100.6,913,156.4],[825.4,1325,1052,1185.7,766.2,1098,526.6,1210.9,827.6,920.4,1069.4,826.2,765,769,507.8,842.5]][datum.p]","as":"C"},{"calculate":"(1-datum.W)*((1-datum.U)*(1-datum.V)*datum.C[0]+datum.U*(1-datum.V)*datum.C[2]+datum.U*datum.V*datum.C[4]+(1-datum.U)*datum.V*datum.C[6])+datum.W*((1-datum.U)*(1-datum.V)*datum.C[8]+datum.U*(1-datum.V)*datum.C[10]+datum.U*datum.V*datum.C[12]+(1-datum.U)*datum.V*datum.C[14])","as":"X"},{"calculate":"(1-datum.W)*((1-datum.U)*(1-datum.V)*datum.C[1]+datum.U*(1-datum.V)*datum.C[3]+datum.U*datum.V*datum.C[5]+(1-datum.U)*datum.V*datum.C[7])+datum.W*((1-datum.U)*(1-datum.V)*datum.C[9]+datum.U*(1-datum.V)*datum.C[11]+datum.U*datum.V*datum.C[13]+(1-datum.U)*datum.V*datum.C[15])","as":"Y"}],
"mark":{"type":"line","stroke":"#000","strokeWidth":3.8},"encoding":{"detail":{"field":"id"},"order":{"field":"s","type":"quantitative"}}},
{"data":{"name":"ticks"},"transform":[{"filter":"datum.axis=='Y'"},{"calculate":"[0,1,2]","as":"s"},{"flatten":["s"]},{"calculate":"datum.s==0?0:1","as":"U"},{"calculate":"datum.s==2?0:1","as":"V"},{"calculate":"[31.4,31.75,30.8][datum.p]","as":"zf"},{"calculate":"(datum.t+datum.zf)/(datum.zf+100)","as":"W"},{"calculate":"datum.p+datum.axis+datum.t","as":"id"},
{"calculate":"[[399.5,648.6,664.6,532,406.2,441.8,141.6,530.6,399.6,235,680.4,163.8,406.6,111,126.4,162.8],[1198.5,671.4,1476.4,549.8,1206,452,929.5,547.8,1197.7,235.5,1492,157.6,1205.7,100.6,913,156.4],[825.4,1325,1052,1185.7,766.2,1098,526.6,1210.9,827.6,920.4,1069.4,826.2,765,769,507.8,842.5]][datum.p]","as":"C"},{"calculate":"(1-datum.W)*((1-datum.U)*(1-datum.V)*datum.C[0]+datum.U*(1-datum.V)*datum.C[2]+datum.U*datum.V*datum.C[4]+(1-datum.U)*datum.V*datum.C[6])+datum.W*((1-datum.U)*(1-datum.V)*datum.C[8]+datum.U*(1-datum.V)*datum.C[10]+datum.U*datum.V*datum.C[12]+(1-datum.U)*datum.V*datum.C[14])","as":"X"},{"calculate":"(1-datum.W)*((1-datum.U)*(1-datum.V)*datum.C[1]+datum.U*(1-datum.V)*datum.C[3]+datum.U*datum.V*datum.C[5]+(1-datum.U)*datum.V*datum.C[7])+datum.W*((1-datum.U)*(1-datum.V)*datum.C[9]+datum.U*(1-datum.V)*datum.C[11]+datum.U*datum.V*datum.C[13]+(1-datum.U)*datum.V*datum.C[15])","as":"Y"}],
"mark":{"type":"line","stroke":"#000","strokeWidth":4},"encoding":{"detail":{"field":"id"},"order":{"field":"s","type":"quantitative"}}},
{"data":{"name":"floors"},"transform":[{"window":[{"op":"row_number","as":"n"}]},{"calculate":"datum.u","as":"U"},{"calculate":"datum.v","as":"V"},{"calculate":"0","as":"W"},
{"calculate":"[[368.9,-236,-25.8,399.5,-33.5,-36.1,-435.7,648.6,0.1562,0.1544,-0.0648],[473.1,-144.1,-75.9,1198.5,-48.9,-50,-453.9,671.4,0.1322,0.13435,-0.0627],[380.5,-235.5,-58.2,825.4,34.1,31.5,-473.3,1325,0.14626,0.12021,-0.073]][datum.p]","as":"M"},{"calculate":"(datum.M[0]*datum.U+datum.M[1]*datum.V+datum.M[2]*datum.W+datum.M[3])/(datum.M[8]*datum.U+datum.M[9]*datum.V+datum.M[10]*datum.W+1)","as":"X"},{"calculate":"(datum.M[4]*datum.U+datum.M[5]*datum.V+datum.M[6]*datum.W+datum.M[7])/(datum.M[8]*datum.U+datum.M[9]*datum.V+datum.M[10]*datum.W+1)","as":"Y"}],
"mark":{"type":"line","stroke":"#000","strokeWidth":5.5,"fill":"#666666","strokeJoin":"round"},"encoding":{"detail":{"field":"p"},"order":{"field":"n","type":"quantitative"}}},
{"data":{"name":"contours"},"transform":[{"window":[{"op":"row_number","as":"n"}]},{"calculate":"datum.u","as":"U"},{"calculate":"datum.v","as":"V"},{"calculate":"0","as":"W"},
{"calculate":"[[368.9,-236,-25.8,399.5,-33.5,-36.1,-435.7,648.6,0.1562,0.1544,-0.0648],[473.1,-144.1,-75.9,1198.5,-48.9,-50,-453.9,671.4,0.1322,0.13435,-0.0627],[380.5,-235.5,-58.2,825.4,34.1,31.5,-473.3,1325,0.14626,0.12021,-0.073]][datum.p]","as":"M"},{"calculate":"(datum.M[0]*datum.U+datum.M[1]*datum.V+datum.M[2]*datum.W+datum.M[3])/(datum.M[8]*datum.U+datum.M[9]*datum.V+datum.M[10]*datum.W+1)","as":"X"},{"calculate":"(datum.M[4]*datum.U+datum.M[5]*datum.V+datum.M[6]*datum.W+datum.M[7])/(datum.M[8]*datum.U+datum.M[9]*datum.V+datum.M[10]*datum.W+1)","as":"Y"}],
"mark":{"type":"line","strokeWidth":10,"interpolate":"catmull-rom","strokeCap":"butt"},"encoding":{"detail":{"field":"c"},"order":{"field":"n","type":"quantitative"},"stroke":{"field":"L","type":"quantitative","legend":null,"scale":{"domain":[22,27,32,43,50,55,65,72.6,76.5,80,84,87,89.4,92,100],"range":["#4db0ff","#30e8ff","#00f0e0","#00f080","#00e840","#20e820","#90f010","#e8f800","#ffe010","#ffc000","#ffa000","#ff8a10","#ff5e10","#ff3810","#ff0000"]}}}},
{"data":{"name":"designPoints"},"transform":[{"calculate":"datum.u","as":"U"},{"calculate":"datum.v","as":"V"},{"calculate":"(datum.z+33)/133","as":"W"},
{"calculate":"[[368.9,-236,-25.8,399.5,-33.5,-36.1,-435.7,648.6,0.1562,0.1544,-0.0648],[473.1,-144.1,-75.9,1198.5,-48.9,-50,-453.9,671.4,0.1322,0.13435,-0.0627],[380.5,-235.5,-58.2,825.4,34.1,31.5,-473.3,1325,0.14626,0.12021,-0.073]][datum.p]","as":"M"},{"calculate":"(datum.M[0]*datum.U+datum.M[1]*datum.V+datum.M[2]*datum.W+datum.M[3])/(datum.M[8]*datum.U+datum.M[9]*datum.V+datum.M[10]*datum.W+1)","as":"X"},{"calculate":"(datum.M[4]*datum.U+datum.M[5]*datum.V+datum.M[6]*datum.W+datum.M[7])/(datum.M[8]*datum.U+datum.M[9]*datum.V+datum.M[10]*datum.W+1)","as":"Y"}],
"mark":{"type":"point","filled":true,"fill":"#f6cdd0","stroke":"#555","strokeWidth":1.5,"opacity":1,"size":420}},
{"data":{"name":"surface"},"transform":[{"window":[{"op":"row_number","as":"n"}]},{"calculate":"floor((datum.n-1)/441)","as":"p"},{"calculate":"(datum.n-1)%441","as":"r"},{"calculate":"20-floor(datum.r/21)","as":"j"},{"calculate":"20-datum.r%21","as":"i"},{"calculate":"datum.i/20","as":"U"},{"calculate":"datum.j/20","as":"V"},{"calculate":"(datum.z+[30.8,30.9,30.2][datum.p])/[131.4,131.75,130.8][datum.p]","as":"W"},
{"calculate":"[[399.5,648.6,664.6,532,406.2,441.8,141.6,530.6,399.6,235,680.4,163.8,406.6,111,126.4,162.8],[1198.5,671.4,1476.4,549.8,1206,452,929.5,547.8,1197.7,235.5,1492,157.6,1205.7,100.6,913,156.4],[825.4,1325,1052,1185.7,766.2,1098,526.6,1210.9,827.6,920.4,1069.4,826.2,765,769,507.8,842.5]][datum.p]","as":"C"},{"calculate":"(1-datum.W)*((1-datum.U)*(1-datum.V)*datum.C[0]+datum.U*(1-datum.V)*datum.C[2]+datum.U*datum.V*datum.C[4]+(1-datum.U)*datum.V*datum.C[6])+datum.W*((1-datum.U)*(1-datum.V)*datum.C[8]+datum.U*(1-datum.V)*datum.C[10]+datum.U*datum.V*datum.C[12]+(1-datum.U)*datum.V*datum.C[14])","as":"X"},{"calculate":"(1-datum.W)*((1-datum.U)*(1-datum.V)*datum.C[1]+datum.U*(1-datum.V)*datum.C[3]+datum.U*datum.V*datum.C[5]+(1-datum.U)*datum.V*datum.C[7])+datum.W*((1-datum.U)*(1-datum.V)*datum.C[9]+datum.U*(1-datum.V)*datum.C[11]+datum.U*datum.V*datum.C[13]+(1-datum.U)*datum.V*datum.C[15])","as":"Y"},
{"window":[{"op":"lead","field":"X","as":"Xr"},{"op":"lead","field":"Y","as":"Yr"},{"op":"lead","field":"z","as":"zr"}],"groupby":["p","j"],"sort":[{"field":"i","order":"ascending"}]},
{"window":[{"op":"lead","field":"X","as":"Xu"},{"op":"lead","field":"Y","as":"Yu"},{"op":"lead","field":"z","as":"zu"},{"op":"lead","field":"Xr","as":"Xd"},{"op":"lead","field":"Yr","as":"Yd"},{"op":"lead","field":"zr","as":"zd"}],"groupby":["p","i"],"sort":[{"field":"j","order":"ascending"}]},
{"filter":"datum.i<20&&datum.j<20"},{"calculate":"datum.p*10000+datum.j*100+datum.i","as":"cell"},{"calculate":"(datum.z+datum.zr+datum.zu+datum.zd)/4","as":"Zm"},{"calculate":"[datum.X,datum.Xr,datum.Xd,datum.Xu,datum.X]","as":"cx"},{"calculate":"[datum.Y,datum.Yr,datum.Yd,datum.Yu,datum.Y]","as":"cy"},{"calculate":"[0,1,2,3,4]","as":"k"},{"flatten":["cx","cy","k"]}],
"mark":{"type":"line","stroke":"#17130a","strokeWidth":1.9,"strokeJoin":"round"},"encoding":{"x":{"field":"cx","type":"quantitative"},"y":{"field":"cy","type":"quantitative"},"detail":{"field":"cell"},"order":{"field":"k","type":"quantitative"},"fill":{"field":"Zm","type":"quantitative","legend":null,"scale":{"domain":[22,27,32,43,50,55,65,72.6,76.5,80,84,87,89.4,92,95,100],"range":["#4db8ff","#40e4ff","#28f0e0","#10f080","#08e840","#20e828","#90f018","#e8f808","#ffe020","#ffc420","#ffa526","#ff8f26","#ff7026","#ff4c24","#ff3022","#ff1010"]}}}},
{"data":{"name":"ticks"},"transform":[{"calculate":"datum.axis=='A'?datum.t:0","as":"U"},{"calculate":"datum.axis=='A'?0:(datum.axis=='F'?datum.t:1)","as":"V"},{"calculate":"[31.4,31.75,30.8][datum.p]","as":"zf"},{"calculate":"datum.axis=='Y'?(datum.t+datum.zf)/(datum.zf+100):0","as":"W"},
{"calculate":"[[399.5,648.6,664.6,532,406.2,441.8,141.6,530.6,399.6,235,680.4,163.8,406.6,111,126.4,162.8],[1198.5,671.4,1476.4,549.8,1206,452,929.5,547.8,1197.7,235.5,1492,157.6,1205.7,100.6,913,156.4],[825.4,1325,1052,1185.7,766.2,1098,526.6,1210.9,827.6,920.4,1069.4,826.2,765,769,507.8,842.5]][datum.p]","as":"C"},{"calculate":"(1-datum.W)*((1-datum.U)*(1-datum.V)*datum.C[0]+datum.U*(1-datum.V)*datum.C[2]+datum.U*datum.V*datum.C[4]+(1-datum.U)*datum.V*datum.C[6])+datum.W*((1-datum.U)*(1-datum.V)*datum.C[8]+datum.U*(1-datum.V)*datum.C[10]+datum.U*datum.V*datum.C[12]+(1-datum.U)*datum.V*datum.C[14])","as":"X"},{"calculate":"(1-datum.W)*((1-datum.U)*(1-datum.V)*datum.C[1]+datum.U*(1-datum.V)*datum.C[3]+datum.U*datum.V*datum.C[5]+(1-datum.U)*datum.V*datum.C[7])+datum.W*((1-datum.U)*(1-datum.V)*datum.C[9]+datum.U*(1-datum.V)*datum.C[11]+datum.U*datum.V*datum.C[13]+(1-datum.U)*datum.V*datum.C[15])","as":"Y"}],
"layer":[{"mark":{"type":"point","filled":true,"color":"#000","opacity":1,"size":110}},
{"transform":[{"filter":"datum.axis=='A'"}],"mark":{"type":"text","font":"Open Sans","fontSize":38,"fill":"#3c3c3c","align":"left","baseline":"middle","dx":23,"dy":25},"encoding":{"text":{"field":"label"}}},
{"transform":[{"filter":"datum.axis=='F'"}],"mark":{"type":"text","font":"Open Sans","fontSize":38,"fill":"#3c3c3c","align":"right","baseline":"middle","dx":-24,"dy":25},"encoding":{"text":{"field":"label"}}},
{"transform":[{"filter":"datum.axis=='Y'"}],"mark":{"type":"text","font":"Open Sans","fontSize":38,"fill":"#3c3c3c","align":"right","baseline":"middle","dx":-22,"dy":-27},"encoding":{"text":{"field":"label"}}}]},
{"data":{"name":"axisTitles"},"transform":[{"calculate":"datum.u","as":"U"},{"calculate":"datum.v","as":"V"},{"calculate":"0","as":"W"},
{"calculate":"[[368.9,-236,-25.8,399.5,-33.5,-36.1,-435.7,648.6,0.1562,0.1544,-0.0648],[473.1,-144.1,-75.9,1198.5,-48.9,-50,-453.9,671.4,0.1322,0.13435,-0.0627],[380.5,-235.5,-58.2,825.4,34.1,31.5,-473.3,1325,0.14626,0.12021,-0.073]][datum.p]","as":"M"},{"calculate":"(datum.M[0]*datum.U+datum.M[1]*datum.V+datum.M[2]*datum.W+datum.M[3])/(datum.M[8]*datum.U+datum.M[9]*datum.V+datum.M[10]*datum.W+1)","as":"X"},{"calculate":"(datum.M[4]*datum.U+datum.M[5]*datum.V+datum.M[6]*datum.W+datum.M[7])/(datum.M[8]*datum.U+datum.M[9]*datum.V+datum.M[10]*datum.W+1)","as":"Y"}],
"mark":{"type":"text","font":"Open Sans","fontSize":38,"fill":"#3c3c3c","align":"center","baseline":"middle"},"encoding":{"text":{"field":"label"}}},
{"data":{"name":"yieldTitles"},"transform":[{"calculate":"0","as":"U"},{"calculate":"1","as":"V"},{"calculate":"67.5/133","as":"W"},
{"calculate":"[[368.9,-236,-25.8,399.5,-33.5,-36.1,-435.7,648.6,0.1562,0.1544,-0.0648],[473.1,-144.1,-75.9,1198.5,-48.9,-50,-453.9,671.4,0.1322,0.13435,-0.0627],[380.5,-235.5,-58.2,825.4,34.1,31.5,-473.3,1325,0.14626,0.12021,-0.073]][datum.p]","as":"M"},{"calculate":"(datum.M[0]*datum.U+datum.M[1]*datum.V+datum.M[2]*datum.W+datum.M[3])/(datum.M[8]*datum.U+datum.M[9]*datum.V+datum.M[10]*datum.W+1)","as":"X"},{"calculate":"(datum.M[4]*datum.U+datum.M[5]*datum.V+datum.M[6]*datum.W+datum.M[7])/(datum.M[8]*datum.U+datum.M[9]*datum.V+datum.M[10]*datum.W+1)","as":"Y"}],
"mark":{"type":"text","font":"Open Sans","fontSize":39,"fill":"#3c3c3c","align":"center","baseline":"middle","angle":270,"dx":0,"dy":-195},"encoding":{"text":{"field":"label"}}},
{"data":{"name":"panelTitles"},"transform":[{"calculate":"1","as":"U"},{"calculate":"1","as":"V"},{"calculate":"(datum.z+33)/133","as":"W"},
{"calculate":"[[368.9,-236,-25.8,399.5,-33.5,-36.1,-435.7,648.6,0.1562,0.1544,-0.0648],[473.1,-144.1,-75.9,1198.5,-48.9,-50,-453.9,671.4,0.1322,0.13435,-0.0627],[380.5,-235.5,-58.2,825.4,34.1,31.5,-473.3,1325,0.14626,0.12021,-0.073]][datum.p]","as":"M"},{"calculate":"(datum.M[0]*datum.U+datum.M[1]*datum.V+datum.M[2]*datum.W+datum.M[3])/(datum.M[8]*datum.U+datum.M[9]*datum.V+datum.M[10]*datum.W+1)","as":"X"},{"calculate":"(datum.M[4]*datum.U+datum.M[5]*datum.V+datum.M[6]*datum.W+datum.M[7])/(datum.M[8]*datum.U+datum.M[9]*datum.V+datum.M[10]*datum.W+1)","as":"Y"}],
"mark":{"type":"text","font":"Liberation Serif","fontWeight":"bold","fontSize":65,"fill":"#000","align":"center","baseline":"middle","dx":4},"encoding":{"text":{"field":"label"}}}
]}
